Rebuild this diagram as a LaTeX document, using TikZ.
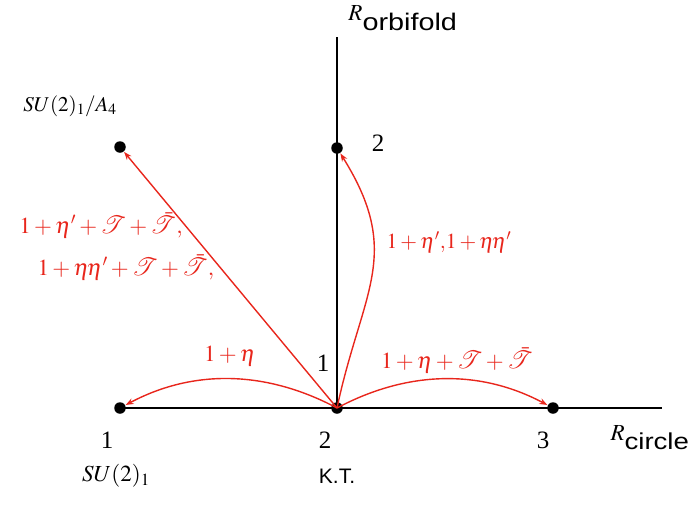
\documentclass[tikz,border=0pt]{standalone}
\usepackage{mathptmx}
\usepackage{mathrsfs}
\usepackage{fontspec}
\setmainfont{Liberation Serif}
\setsansfont{Liberation Sans}
\newfontfamily\widesans[FakeStretch=1.2]{Liberation Sans}
\usetikzlibrary{arrows.meta}
\definecolor{redline}{RGB}{232,38,28}
\begin{document}
\begin{tikzpicture}[x=1pt,y=-1pt,
  dot/.style={circle,fill=black,inner sep=0pt,minimum size=11.5pt},
  axis/.style={line width=1.8pt,black},
  rarrow/.style={redline,line width=1.4pt,-{Stealth[length=8pt,width=6pt]},shorten >=0.5pt},
  rlab/.style={redline,font=\fontsize{23}{27}\selectfont,inner sep=0pt},
  blab/.style={black,font=\fontsize{25}{29}\selectfont,inner sep=0pt},
  slab/.style={black,font=\fontsize{21}{25}\selectfont\sffamily,inner sep=0pt}]
\useasboundingbox (0,0) rectangle (697,504);
% axes
\coordinate (vtop) at (337,37);
\coordinate (hend) at (662,408);
\node[dot] (o) at (337,408) {};
\node[dot] (p1) at (120,408) {};
\node[dot] (p3) at (553,408) {};
\node[dot] (q) at (337,148) {};
\node[dot] (a4) at (120,147) {};
\draw[axis] (vtop) -- (o.center);
\draw[axis] (p1.center) -- (hend);
% red arrows
\draw[rarrow] (o.center) to[out=152,in=28,looseness=0.95] (p1);
\draw[rarrow] (o.center) to[out=28,in=152,looseness=0.95] (p3);
\draw[rarrow] (o.center) to[out=78,in=-58,looseness=1.2] (q);
\draw[rarrow] (o.center) -- (a4);
% labels
\node[rlab] (l1) at (101,225) {$1+\eta'+\mathscr{T}+\bar{\mathscr{T}},$};
\node[rlab] (l2) at (126,267) {$1+\eta\mkern-2mu\eta'+\mathscr{T}+\bar{\mathscr{T}},$};
\node[rlab,font=\fontsize{21.5}{26}\selectfont] (l3) at (449,242) {$1+\eta',\!1+\eta\mkern-2mu\eta'$};
\node[rlab] (l4) at (230,356) {$1+\eta$};
\node[rlab] (l5) at (457,360) {$1+\eta+\mathscr{T}+\bar{\mathscr{T}}$};
\node[blab] (n1) at (323,363) {1};
\node[blab] (n2) at (378,143) {2};
\node[blab] (b1) at (107,440) {1};
\node[blab] (b2) at (325,440) {2};
\node[blab] (b3) at (543,440) {3};
\node[black,inner sep=0pt,font=\fontsize{23}{26}\selectfont] (ro) at (403,18) {$R_{\mbox{\fontsize{24}{26}\selectfont\widesans orbifold}}$};
\node[black,inner sep=0pt,font=\fontsize{23}{26}\selectfont] (rc) at (650,438) {$R_{\mbox{\fontsize{23}{26}\selectfont\widesans circle}}$};
\node[black,inner sep=0pt,font=\fontsize{23}{27}\selectfont] (su) at (116,476) {$SU(2)_1$};
\node[black,inner sep=0pt,font=\fontsize{21}{25}\selectfont] (sua) at (70,106) {$SU(2)_1/A_4$};
\node[slab] (kt) at (337,476) {K.T.};
\end{tikzpicture}
\end{document}
